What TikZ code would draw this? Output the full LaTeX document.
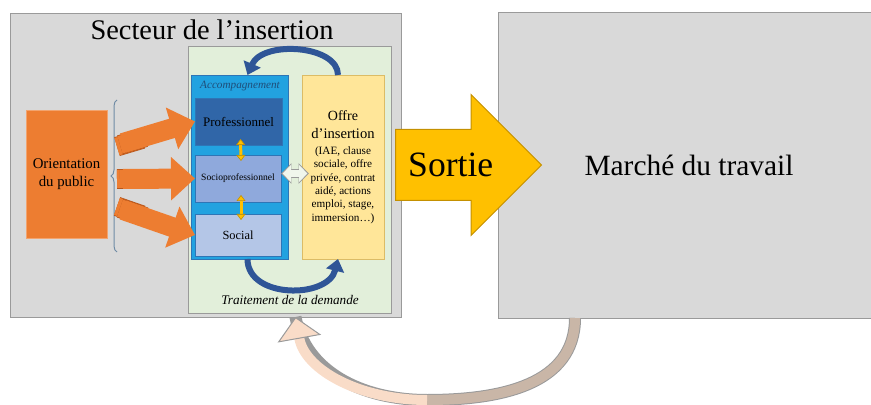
\documentclass[tikz,border=0pt]{standalone}
\usepackage{fontspec}
\setmainfont{Liberation Serif}
\usepackage{xcolor}
\usetikzlibrary{arrows.meta,calc,shapes.arrows,decorations.pathreplacing}

\definecolor{panelgray}{HTML}{D9D9D9}
\definecolor{paneledge}{HTML}{9A9A9A}
\definecolor{vertpale}{HTML}{E2EFDA}
\definecolor{vertblanc}{HTML}{F0F6EC}
\definecolor{bleuvif}{HTML}{22A2E0}
\definecolor{bleuvifedge}{HTML}{2E75B6}
\definecolor{bleupro}{HTML}{3066A8}
\definecolor{bleusocio}{HTML}{8FA9DC}
\definecolor{bleusocial}{HTML}{B4C6E7}
\definecolor{bleunuit}{HTML}{1F4E79}
\definecolor{jauneoffre}{HTML}{FFE699}
\definecolor{orangepub}{HTML}{ED7D31}
\definecolor{orangeedge}{HTML}{B8561B}
\definecolor{orsortie}{HTML}{FFC000}
\definecolor{oredge}{HTML}{C49000}
\definecolor{bleuarc}{HTML}{2F5597}
\definecolor{peche}{HTML}{F9DCC8}
\definecolor{taupe}{HTML}{C9B6A7}

\begin{document}
\begin{tikzpicture}[x=0.5pt,y=-0.5pt,
  box/.style={draw, inner sep=0pt, outer sep=0pt, align=center},
  panel/.style={box, fill=panelgray, draw=paneledge},
  fleche/.style={orangepub, line width=10pt, -{Triangle[length=12pt,width=21pt]}},
  feuillet/.style={draw=orangeedge, double=orangepub, double distance=9pt, line width=0.4pt},
  arcaccomp/.style={bleuarc, line width=3pt, -{Triangle[length=6pt,width=9pt]}},
  lienjaune/.style={orsortie, line width=1.5pt, {Triangle[length=3pt,width=4.5pt,color=oredge,fill=orsortie,line width=0.3pt]}-{Triangle[length=3pt,width=4.5pt,color=oredge,fill=orsortie,line width=0.3pt]}},
  lienvertbord/.style={paneledge, line width=4.6pt, {Triangle[length=5.2pt,width=10pt]}-{Triangle[length=5.2pt,width=10pt]}},
  lienvert/.style={vertblanc, line width=3.6pt, shorten <=0.8pt, shorten >=0.8pt, {Triangle[length=4.2pt,width=8.4pt]}-{Triangle[length=4.2pt,width=8.4pt]}},
  retour/.style={line width=5pt},
  retourtip/.style={-{Triangle[length=11pt,width=22pt,color=paneledge,fill=peche,line width=0.5pt]}}]
\useasboundingbox (0,0) rectangle (871,405);

\node[panel, minimum width=195.5pt, minimum height=152pt] (secteur) at (205.5,165) {};
\node[font=\fontsize{14.2}{17}\selectfont] (titre) at (212,30) {Secteur de l’insertion};
\node[panel, minimum width=191pt, minimum height=153pt, font=\fontsize{14.7}{17}\selectfont] (marche) at (689,165) {Marché du travail};

\node[box, fill=vertpale, draw=paneledge, minimum width=101.5pt, minimum height=133.5pt] (traitement) at (289.5,179.5) {};
\node[font=\itshape\fontsize{6.6}{8}\selectfont] (demande) at (290,300) {Traitement de la demande};

\node[box, fill=bleuvif, draw=bleuvifedge, minimum width=48.5pt, minimum height=92pt] (accomp) at (239.5,167) {};
\node[font=\itshape\fontsize{5.6}{7}\selectfont, text=bleunuit] (accomptitre) at (240,86) {Accompagnement};
\node[box, fill=bleupro, draw=bleuvifedge, minimum width=43.5pt, minimum height=23.5pt, font=\fontsize{6.5}{8}\selectfont] (prof) at (238.5,121.5) {Professionnel};
\node[box, fill=bleusocio, draw=bleuvifedge, minimum width=43pt, minimum height=23.5pt, font=\fontsize{4.8}{6}\selectfont] (socio) at (238,178.5) {Socioprofessionnel};
\node[box, fill=bleusocial, draw=bleuvifedge, minimum width=43pt, minimum height=21pt, font=\fontsize{6.2}{8}\selectfont] (social) at (238,235) {Social};

\node[box, fill=jauneoffre, draw=oredge!60, minimum width=41pt, minimum height=92pt, font=\fontsize{5.6}{6.7}\selectfont] (offre) at (343,167)
  {{\fontsize{7}{8}\selectfont Offre}\\[2.3pt]{\fontsize{7.3}{8}\selectfont d’insertion}\\[1.3pt](IAE, clause\\sociale, offre\\privée, contrat\\aidé, actions\\emploi, stage,\\immersion…)};

\node[box, fill=orangepub, draw=orangepub!70, minimum width=40.5pt, minimum height=64pt, font=\fontsize{7.4}{8.8}\selectfont] (orientation) at (66.5,174) {Orientation\\du public};

\draw[paneledge!60!bleuvifedge, line width=0.5pt, decorate, decoration={brace, amplitude=3pt}] (117,252) -- (117,100);

\coordinate (queue1) at (123,143);
\coordinate (queue2) at (123,179);
\coordinate (queue3) at (123,210);
\foreach \d in {3,1.5}{
  \draw[feuillet] ($(queue1)+(-\d pt,-\d pt*0.6)$) -- ($(queue1)!0.35!(prof.west)+(-\d pt,-\d pt*0.6)$);
  \draw[feuillet] ($(queue2)+(-\d pt,0)$) -- ($(queue2)!0.35!(socio.west)+(-\d pt,0)$);
  \draw[feuillet] ($(queue3)+(-\d pt,\d pt*0.6)$) -- ($(queue3)!0.35!(social.west)+(-\d pt,\d pt*0.6)$);
}
\draw[fleche] (queue1) -- (prof.west);
\draw[fleche] (queue2) -- (socio.west);
\draw[fleche] (queue3) -- (social.west);

\draw[lienjaune] ($(prof.south)+(2,-6)$) -- ($(socio.north)+(3,6)$);
\draw[lienjaune] ($(socio.south)+(3,-7)$) -- ($(social.north)+(3,6)$);
\coordinate (vertg) at ($(socio.east -| accomp.east)+(-7,-5)$);
\coordinate (vertd) at ($(socio.east -| offre.west)+(7,-5)$);
\draw[lienvertbord] (vertg) -- (vertd);
\draw[lienvert] (vertg) -- (vertd);

\draw[arcaccomp] ($(offre.north)+(-5,0)$) .. controls +(0,-30) and +(15,-35) .. ($(accomp.north)+(8,0)$);
\draw[arcaccomp] ($(accomp.south)+(8,0)$) .. controls +(0,40) and +(-10,40) .. ($(offre.south)+(-5,0)$);

\node[single arrow, fill=orsortie, draw=oredge, line width=0.5pt, single arrow head extend=17.5pt, minimum height=73pt,
  inner ysep=11.5pt, text height=12pt, text depth=0pt, font=\fontsize{17.8}{20}\selectfont, anchor=tail] (sortie) at (395,165) {Sortie};

\coordinate (depart) at ($(marche.south west)+(77,0)$);
\coordinate (creux) at (427,400);
\coordinate (arrivee) at ($(traitement.south |- secteur.south)+(6,0)$);
\draw[retour, paneledge, line width=6pt] (depart) .. controls (575,385) and (500,400) .. (creux) .. controls (360,400) and (305,370) .. (arrivee);
\draw[retour, taupe] (depart) .. controls (575,385) and (500,400) .. (creux);
\draw[retour, peche, retourtip] (creux) .. controls (360,400) and (305,370) .. (arrivee);
\end{tikzpicture}
\end{document}
